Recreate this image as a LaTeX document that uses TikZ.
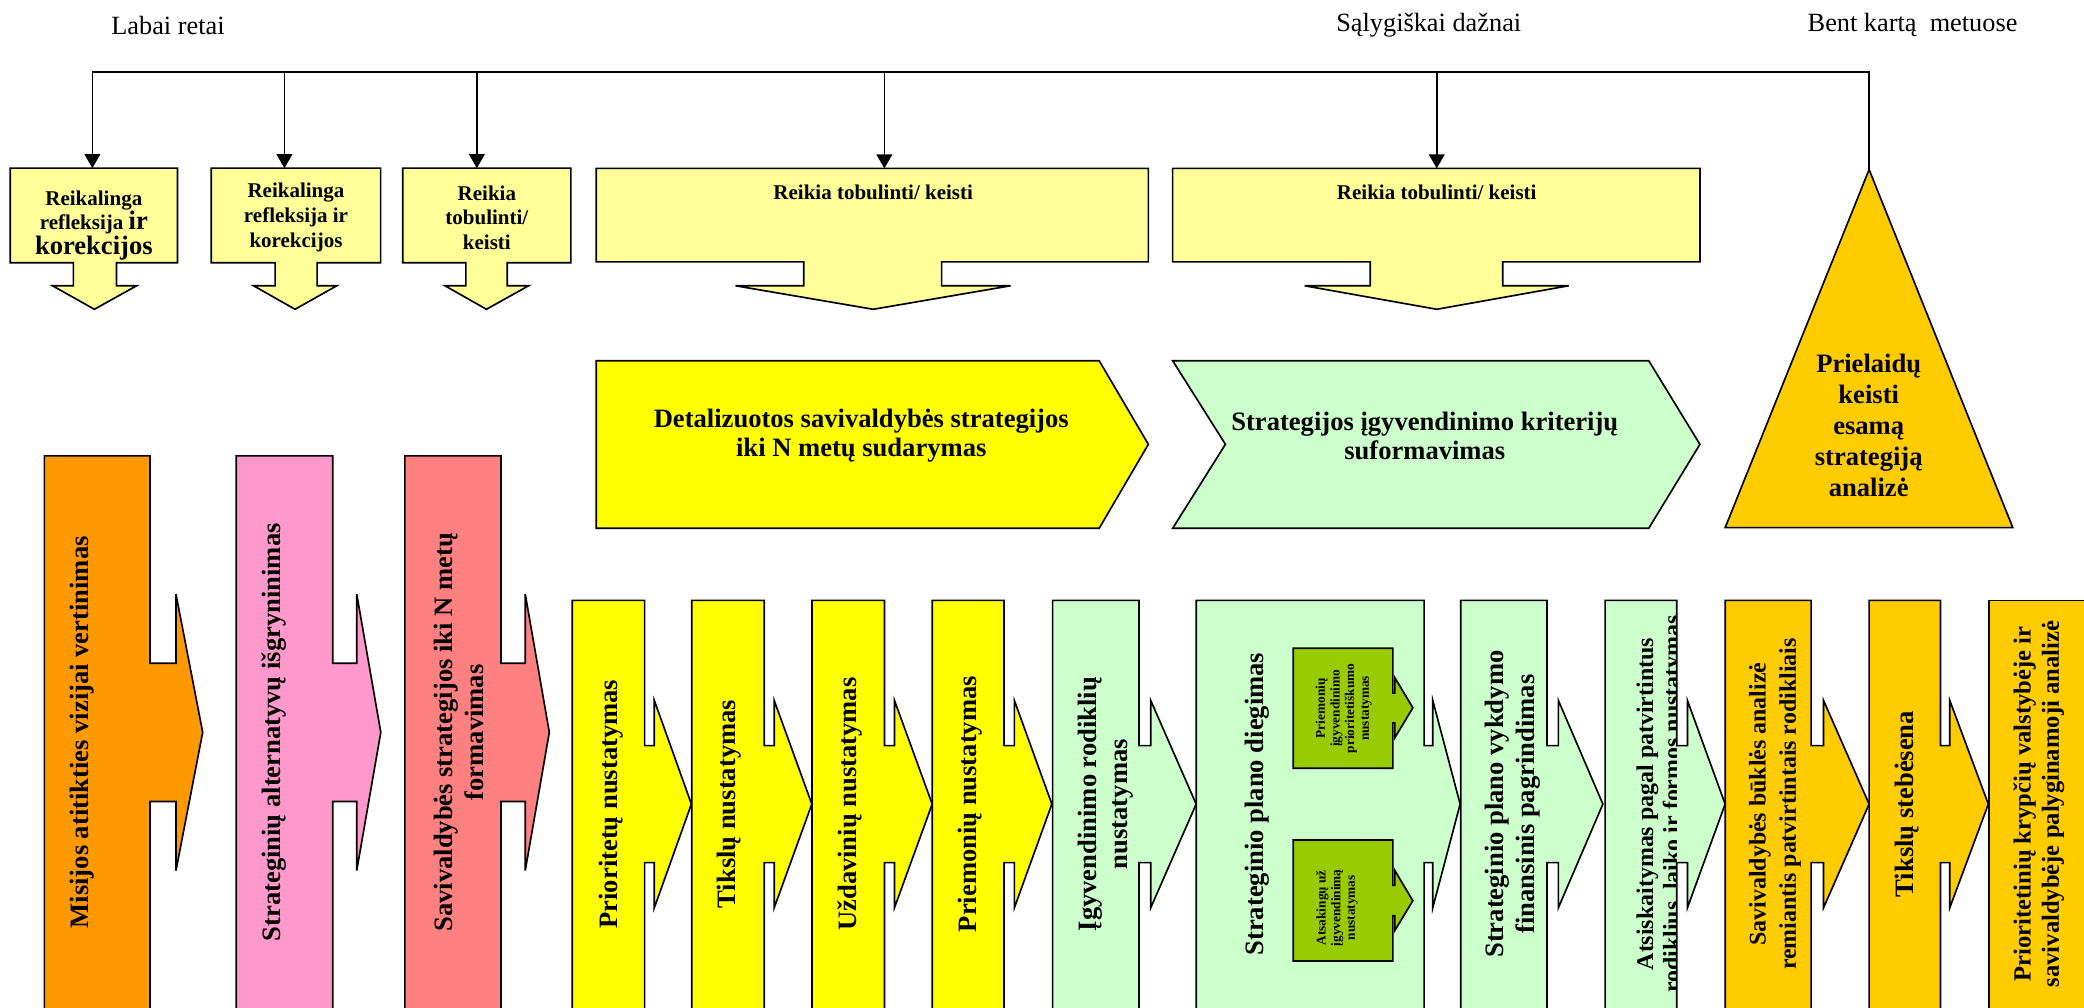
\documentclass[tikz,border=0pt]{standalone}
\usepackage{fontspec}
\setmainfont{Liberation Serif}
\usetikzlibrary{arrows.meta}
\definecolor{ltyellow}{HTML}{FFFF99}
\definecolor{orng}{HTML}{FF9900}
\definecolor{pnk}{HTML}{FF99CC}
\definecolor{salmon}{HTML}{FF8080}
\definecolor{yel}{HTML}{FFFF00}
\definecolor{ltgreen}{HTML}{CCFFCC}
\definecolor{dkgreen}{HTML}{99CC00}
\definecolor{gold}{HTML}{FFCC00}
% callout box with a down block arrow
\newcommand{\callout}[9]{%
  \filldraw[shapeline, fill=ltyellow] (#1,#3) -- (#2,#3) -- (#2,#4) -- (#6,#4) -- (#6,215) -- (#8,215) -- (#9,232.7) -- (#7,215) -- (#5,215) -- (#5,#4) -- (#1,#4) -- cycle;}
% vertical bar with right block arrow
\newcommand{\barrow}[9]{%
  \filldraw[shapeline, fill=#1] (#2,800) -- (#2,#6) -- (#3,#6) -- (#3,{#7-#9}) -- (#4,{#7-#9}) -- (#4,{#7-#8}) -- (#5,#7) -- (#4,{#7+#8}) -- (#4,{#7+#9}) -- (#3,{#7+#9}) -- (#3,800) -- cycle;}
\begin{document}
\begin{tikzpicture}[x=1pt,y=-1pt,
  shapeline/.style={draw=black, line width=1.25pt, line join=miter},
  conn/.style={draw=black, line width=1.2pt, line cap=rect},
  arr/.style={draw=black, line width=1.2pt, -{Triangle[length=10.5pt,width=11.8pt]}},
  toptext/.style={font=\bfseries\fontsize{15.8}{18.5}\selectfont, align=center, inner sep=0pt},
  lbl/.style={font=\fontsize{19.8}{22}\selectfont, inner sep=0pt},
  bigtext/.style={font=\bfseries\fontsize{20}{22}\selectfont, align=center, inner sep=0pt},
  vtext/.style={font=\bfseries\fontsize{20}{23.3}\selectfont, align=center, inner sep=0pt, rotate=90},
  vtextsm/.style={font=\bfseries\fontsize{18}{21.5}\selectfont, align=center, inner sep=0pt, rotate=90},
  smalltext/.style={font=\bfseries\fontsize{10}{11}\selectfont, align=center, inner sep=0pt, rotate=90},
]
\useasboundingbox (0,0) rectangle (1568,757.7);
\clip (0,0) rectangle (1568,757.7);
\fill[white] (0,0) rectangle (1568,757.7);

% frequency labels
\node[lbl] (lbl1) at (126.4,19) {Labai retai};
\node[lbl] (lbl2) at (1075,19) {Sąlygiškai dažnai};
\node[lbl] (lbl3) at (1439,19) {Bent kartą\ \ metuose};

% top callout boxes
\callout{7.7}{133.6}{126.5}{197.7}{55.2}{87.7}{39.5}{102.8}{71}
\callout{159}{286.4}{126.5}{197.7}{207}{238.6}{190.8}{253.4}{222}
\callout{303}{429.5}{126.5}{197.7}{350.5}{381.6}{334.8}{397.7}{366}
\callout{448.6}{864}{126.7}{197}{604.7}{708.5}{553.4}{760.4}{657}
\callout{882.3}{1279}{126.7}{197}{1031}{1130.6}{981.6}{1180.3}{1081}

\node[toptext] (ta) at (70.6,169.5) {Reikalinga\\refleksija {\fontsize{20}{22}\selectfont ir}\\{\fontsize{20}{22}\selectfont korekcijos}};
\node[toptext] (tb) at (222.7,163.6) {Reikalinga\\refleksija ir\\korekcijos};
\node[toptext] (tc) at (366.3,163.6) {Reikia\\tobulinti/\\keisti};
\node[toptext] (td) at (657,144.7) {Reikia tobulinti/ keisti};
\node[toptext] (te) at (1081,144.7) {Reikia tobulinti/ keisti};

% chevrons
\filldraw[shapeline, fill=yel] (448.6,271.4) -- (827,271.4) -- (864,334.3) -- (827,397.5) -- (448.6,397.5) -- cycle;
\node[bigtext] (cd) at (648,328) {Detalizuotos savivaldybės strategijos\\iki N metų sudarymas};
\filldraw[shapeline, fill=ltgreen] (882.3,271.4) -- (1240.5,271.4) -- (1279,334.3) -- (1240.5,397.5) -- (882.3,397.5) -- (922,334.3) -- cycle;
\node[bigtext] (ce) at (1072,328) {Strategijos įgyvendinimo kriterijų\\suformavimas};

% triangle
\filldraw[shapeline, fill=gold] (1406.3,127.6) -- (1514.4,397) -- (1298,397) -- cycle;
\node[bigtext, font=\bfseries\fontsize{20}{23.3}\selectfont] (tri) at (1406,320) {Prielaidų\\keisti\\esamą\\strategiją\\analizė};

% connectors
\coordinate (j0) at (69.5,54);
\coordinate (j1) at (214,54);
\coordinate (j2) at (358.8,54);
\coordinate (j3) at (665.4,54);
\coordinate (j4) at (1081,54);
\coordinate (j5) at (1406.3,54);
\coordinate (tA) at (69.5,126.5);
\coordinate (tB) at (214,126.5);
\coordinate (tC) at (358.8,126.5);
\coordinate (tD) at (665.4,126.7);
\coordinate (tE) at (1081,126.7);
\coordinate (apex) at (1406.3,127.6);
\draw[conn] (apex) -- (j5) -- (j0);
\draw[arr] (j0) -- (tA);
\draw[arr] (j1) -- (tB);
\draw[arr] (j2) -- (tC);
\draw[arr] (j3) -- (tD);
\draw[arr] (j4) -- (tE);

% bottom row 1
\barrow{orng}{33.4}{112.9}{132.4}{152.5}{343}{551}{104}{52}
\barrow{pnk}{177.8}{250.3}{268.4}{286.5}{343}{551}{104}{52}
\barrow{salmon}{304.6}{377}{395.2}{413.3}{343}{551}{104}{52}
% bottom row 2
\barrow{yel}{430.6}{485}{492.3}{520.2}{451.7}{605}{78}{44}
\barrow{yel}{520.5}{575}{582.5}{610.8}{451.7}{605}{78}{44}
\barrow{yel}{611}{665.5}{673}{701.4}{451.7}{605}{78}{44}
\barrow{yel}{701.4}{755.4}{763.2}{791.4}{451.7}{605}{78}{44}
\barrow{ltgreen}{792}{857}{865.8}{900}{451.7}{605}{78}{44}
\barrow{ltgreen}{900}{1071.5}{1078}{1098.6}{451.7}{605}{78}{44}
\barrow{ltgreen}{1099}{1164}{1172.5}{1206}{451.7}{605}{78}{44}
\barrow{ltgreen}{1207.7}{1261.6}{1269.6}{1298}{451.7}{605}{78}{44}
\barrow{gold}{1298}{1362.7}{1372}{1406.3}{451.7}{605}{78}{44}
\barrow{gold}{1406.3}{1460}{1467}{1496}{451.7}{605}{78}{44}
\filldraw[shapeline, fill=gold] (1496.6,800) -- (1496.6,451.7) -- (1620,451.7) -- (1620,800) -- cycle;

% inner boxes
\filldraw[shapeline, fill=dkgreen] (973,487.7) -- (1048,487.7) -- (1048,521.5) -- (1049.5,521.5) -- (1049.5,510) -- (1063,532.5) -- (1049.5,555) -- (1049.5,544) -- (1048,544) -- (1048,578) -- (973,578) -- cycle;
\filldraw[shapeline, fill=dkgreen] (973,632) -- (1048,632) -- (1048,666) -- (1049.5,666) -- (1049.5,655) -- (1063,677.7) -- (1049.5,700) -- (1049.5,689) -- (1048,689) -- (1048,723) -- (973,723) -- cycle;
\node[smalltext] (p1) at (1011,533) {Priemonių\\įgyvendinimo\\prioritetiškumo\\nustatymas};
\node[smalltext] (p2) at (1006,683) {Atsakingų už\\įgyvendinimą\\nustatymas};

% vertical texts
\node[vtext] (v1) at (61.5,551) {Misijos atitikties vizijai vertinimas};
\node[vtext] (v2) at (206.3,551) {Strateginių alternatyvų išgryninimas};
\node[vtext] (v3) at (345,551) {Savivaldybės strategijos iki N metų\\formavimas};
\node[vtext] (v4) at (459.8,605) {Prioritetų nustatymas};
\node[vtext] (v5) at (548.8,605) {Tikslų nustatymas};
\node[vtext] (v6) at (639.4,605) {Uždavinių nustatymas};
\node[vtext] (v7) at (730,605) {Priemonių nustatymas};
\node[vtext] (v8) at (832,605) {Įgyvendinimo rodiklių\\nustatymas};
\node[vtext] (v9) at (945.6,605) {Strateginio plano diegimas};
\node[vtext] (v10) at (1138,605) {Strateginio plano vykdymo\\finansinis pagrindimas};
\begin{scope}
\clip (1207.7,451.7) rectangle (1261.6,800);
\node[vtextsm, font=\bfseries\fontsize{18}{20}\selectfont] (v11) at (1249.5,605) {Atsiskaitymas pagal patvirtintus\\rodiklius, laiko ir formos nustatymas};
\end{scope}
\node[vtextsm, font=\bfseries\fontsize{18}{22.6}\selectfont] (v12) at (1335.5,605) {Savivaldybės būklės analizė\\remiantis patvirtintais rodikliais};
\node[vtext] (v13) at (1434.6,605) {Tikslų stebėsena};
\node[vtextsm, font=\bfseries\fontsize{18.5}{21.3}\selectfont] (v14) at (1534,605) {Prioritetinių krypčių valstybėje ir\\savivaldybėje palyginamoji analizė};
\end{tikzpicture}
\end{document}
